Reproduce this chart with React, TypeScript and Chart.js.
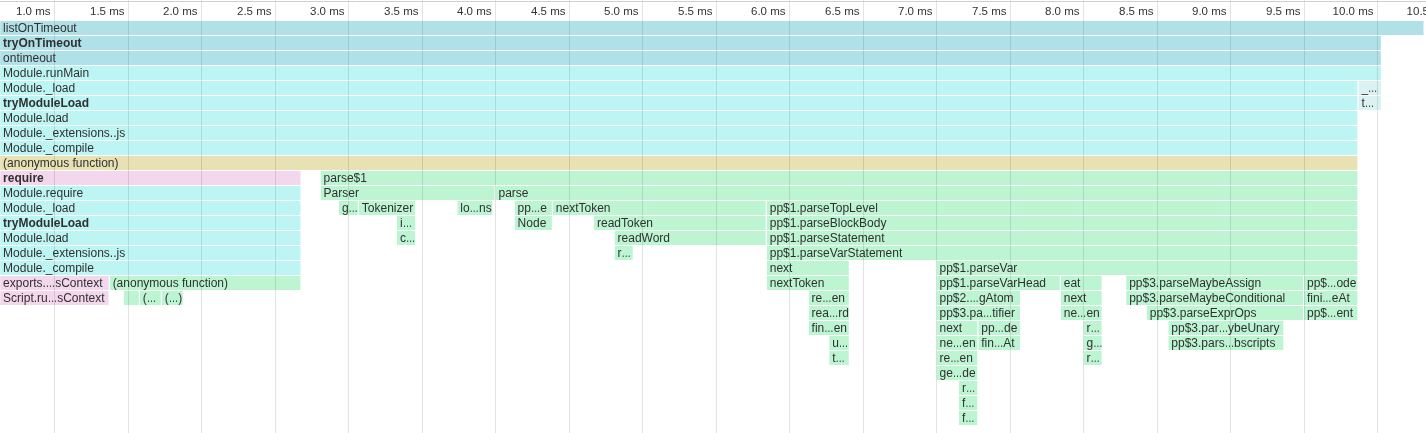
import { useEffect, useRef } from 'react';
import { Chart, registerables } from 'chart.js';

Chart.register(...registerables);

// Each frame: [stack depth, start (ms), end (ms), displayed name]
type Frame = [number, number, number, string];

const timerFrames: Frame[] = [
  [0, 0.63, 10.32, 'listOnTimeout'],
  [1, 0.63, 10.03, 'tryOnTimeout'],
  [2, 0.63, 10.03, 'ontimeout'],
];

const moduleFrames: Frame[] = [
  [3, 0.63, 10.03, 'Module.runMain'],
  [4, 0.63, 9.87, 'Module._load'],
  [5, 0.63, 9.87, 'tryModuleLoad'],
  [6, 0.63, 9.87, 'Module.load'],
  [7, 0.63, 9.87, 'Module._extensions..js'],
  [8, 0.63, 9.87, 'Module._compile'],
  [11, 0.63, 2.68, 'Module.require'],
  [12, 0.63, 2.68, 'Module._load'],
  [13, 0.63, 2.68, 'tryModuleLoad'],
  [14, 0.63, 2.68, 'Module.load'],
  [15, 0.63, 2.68, 'Module._extensions..js'],
  [16, 0.63, 2.68, 'Module._compile'],
];

const tailFrames: Frame[] = [
  [4, 9.87, 10.03, '_…'],
  [5, 9.87, 10.03, 't…'],
];

const scriptFrames: Frame[] = [
  [9, 0.63, 9.87, '(anonymous function)'],
];

const nativeFrames: Frame[] = [
  [10, 0.63, 2.68, 'require'],
  [17, 0.63, 1.375, 'exports.…sContext'],
  [18, 0.63, 1.375, 'Script.ru…sContext'],
];

const parserFrames: Frame[] = [
  [10, 2.81, 9.87, 'parse$1'],
  [11, 2.81, 4.0, 'Parser'],
  [11, 4.0, 9.87, 'parse'],
  [12, 2.935, 3.07, 'g…'],
  [12, 3.07, 3.46, 'Tokenizer'],
  [12, 3.74, 3.985, 'lo…ns'],
  [12, 4.13, 4.39, 'pp…e'],
  [12, 4.39, 5.845, 'nextToken'],
  [12, 5.845, 9.87, 'pp$1.parseTopLevel'],
  [13, 3.33, 3.46, 'i…'],
  [13, 4.13, 4.39, 'Node'],
  [13, 4.67, 5.845, 'readToken'],
  [13, 5.845, 9.87, 'pp$1.parseBlockBody'],
  [14, 3.33, 3.46, 'c…'],
  [14, 4.81, 5.845, 'readWord'],
  [14, 5.845, 9.87, 'pp$1.parseStatement'],
  [15, 4.81, 4.94, 'r…'],
  [15, 5.845, 9.87, 'pp$1.parseVarStatement'],
  [16, 5.845, 6.41, 'next'],
  [16, 7.0, 9.87, 'pp$1.parseVar'],
  [17, 1.375, 2.68, '(anonymous function)'],
  [17, 5.845, 6.41, 'nextToken'],
  [17, 7.0, 7.845, 'pp$1.parseVarHead'],
  [17, 7.845, 8.13, 'eat'],
  [17, 8.29, 9.5, 'pp$3.parseMaybeAssign'],
  [17, 9.5, 9.87, 'pp$…ode'],
  [18, 1.47, 1.58, ''],
  [18, 1.58, 1.73, '(…'],
  [18, 1.73, 1.88, '(…)'],
  [18, 6.13, 6.41, 're…en'],
  [18, 7.0, 7.575, 'pp$2.…gAtom'],
  [18, 7.845, 8.13, 'next'],
  [18, 8.29, 9.5, 'pp$3.parseMaybeConditional'],
  [18, 9.5, 9.87, 'fini…eAt'],
  [19, 6.13, 6.41, 'rea…rd'],
  [19, 7.0, 7.575, 'pp$3.pa…tifier'],
  [19, 7.845, 8.13, 'ne…en'],
  [19, 8.43, 9.5, 'pp$3.parseExprOps'],
  [19, 9.5, 9.87, 'pp$…ent'],
  [20, 6.13, 6.41, 'fin…en'],
  [20, 7.0, 7.284, 'next'],
  [20, 7.284, 7.575, 'pp…de'],
  [20, 8.0, 8.13, 'r…'],
  [20, 8.577, 9.366, 'pp$3.par…ybeUnary'],
  [21, 6.27, 6.41, 'u…'],
  [21, 7.0, 7.284, 'ne…en'],
  [21, 7.284, 7.575, 'fin…At'],
  [21, 8.0, 8.13, 'g…'],
  [21, 8.577, 9.366, 'pp$3.pars…bscripts'],
  [22, 6.27, 6.41, 't…'],
  [22, 7.0, 7.284, 're…en'],
  [22, 8.0, 8.13, 'r…'],
  [23, 7.0, 7.284, 'ge…de'],
  [24, 7.153, 7.284, 'r…'],
  [25, 7.153, 7.284, 'f…'],
  [26, 7.153, 7.284, 'f…'],
];

const tickValues = [1.0, 1.5, 2.0, 2.5, 3.0, 3.5, 4.0, 4.5, 5.0, 5.5, 6.0, 6.5, 7.0, 7.5, 8.0, 8.5, 9.0, 9.5, 10.0, 10.5];
const tickLabels = ['1.0 ms', '1.5 ms', '2.0 ms', '2.5 ms', '3.0 ms', '3.5 ms', '4.0 ms', '4.5 ms', '5.0 ms', '5.5 ms', '6.0 ms', '6.5 ms', '7.0 ms', '7.5 ms', '8.0 ms', '8.5 ms', '9.0 ms', '9.5 ms', '10.0 ms', '10.5 ms'];

const boldNames = new Set(['tryOnTimeout', 'tryModuleLoad', 'require']);

// Visible time window and stack depth
const timeMin = 0.62925;
const timeMax = 10.3299;
const maxDepth = 26;

const HEADER = 21;
const ROW = 15;
const FONT = '"Liberation Sans", Arial, sans-serif';

const groups: { frames: Frame[]; color: string }[] = [
  { frames: timerFrames, color: '#b1e1e8' },
  { frames: moduleFrames, color: '#bcf5f3' },
  { frames: tailFrames, color: '#daf2f2' },
  { frames: scriptFrames, color: '#e7e1b3' },
  { frames: nativeFrames, color: '#f3d7ec' },
  { frames: parserFrames, color: '#bdf5d3' },
];

// Writes a frame name, drawing a tighter ellipsis for shortened names.
function drawName(ctx: CanvasRenderingContext2D, name: string, x: number, y: number) {
  const cut = name.indexOf('…');
  if (cut < 0) {
    ctx.fillText(name, x, y);
    return;
  }
  const head = name.slice(0, cut);
  const tail = name.slice(cut + 1);
  ctx.fillText(head, x, y);
  let cx = x + ctx.measureText(head).width;
  const squeeze = 0.78;
  ctx.save();
  ctx.translate(cx, y);
  ctx.scale(squeeze, 1);
  ctx.fillText('…', 0, 0);
  ctx.restore();
  cx += ctx.measureText('…').width * squeeze;
  ctx.fillText(tail, cx, y);
}

const flamePlugin = {
  id: 'flameOverlay',
  beforeDraw(chart: any) {
    const { ctx, width, height } = chart;
    ctx.save();
    ctx.fillStyle = '#ffffff';
    ctx.fillRect(0, 0, width, height);
    ctx.restore();
  },
  afterDatasetsDraw(chart: any) {
    const { ctx, height } = chart;
    const xScale = chart.scales.x;

    // vertical time grid, over the bars
    ctx.save();
    ctx.strokeStyle = 'rgba(0,0,0,0.11)';
    ctx.lineWidth = 1;
    tickValues.forEach((v) => {
      const px = Math.floor(xScale.getPixelForValue(v)) + 0.5;
      ctx.beginPath();
      ctx.moveTo(px, 0);
      ctx.lineTo(px, height);
      ctx.stroke();
    });
    ctx.restore();

    // frame names
    chart.data.datasets.forEach((ds: any, i: number) => {
      const meta = chart.getDatasetMeta(i);
      meta.data.forEach((el: any, j: number) => {
        const name = ds.data[j].name;
        if (!name) return;
        const p = el.getProps(['x', 'base', 'y', 'height'], true);
        const left = Math.min(p.x, p.base);
        const right = Math.max(p.x, p.base);
        const top = p.y - p.height / 2;
        ctx.save();
        ctx.beginPath();
        ctx.rect(left, top, right - left, p.height - 1);
        ctx.clip();
        ctx.fillStyle = '#303030';
        ctx.font = `${boldNames.has(name) ? 'bold ' : ''}12px ${FONT}`;
        ctx.textAlign = 'left';
        ctx.textBaseline = 'alphabetic';
        drawName(ctx, name, left + 3, top + 11);
        ctx.restore();
      });
    });

    // time ruler labels
    ctx.save();
    ctx.fillStyle = '#333333';
    ctx.font = `11.5px ${FONT}`;
    ctx.textAlign = 'right';
    ctx.textBaseline = 'alphabetic';
    tickValues.forEach((v, i) => {
      const px = Math.floor(xScale.getPixelForValue(v)) + 0.5;
      ctx.fillText(tickLabels[i], px - 4, 15);
    });
    ctx.strokeStyle = '#cfcfcf';
    ctx.beginPath();
    ctx.moveTo(0, 1.5);
    ctx.lineTo(chart.width, 1.5);
    ctx.stroke();
    ctx.restore();
  },
};

export default function App() {
  const canvasRef = useRef<HTMLCanvasElement>(null);

  useEffect(() => {
    document.body.style.margin = '0';
    const canvas = canvasRef.current;
    if (!canvas) return;

    const datasets = groups.map((g) => ({
      data: g.frames.map(([depth, start, end, name]) => ({ x: [start, end], y: depth, name })),
      backgroundColor: g.color,
      borderColor: '#ffffff',
      borderWidth: { top: 0, left: 0, right: 1, bottom: 1 },
      borderSkipped: false,
      inflateAmount: 0,
      grouped: false,
      barThickness: ROW,
    }));

    const chart = new Chart(canvas, {
      type: 'bar',
      data: { datasets: datasets as any },
      options: {
        indexAxis: 'y',
        responsive: false,
        animation: false,
        devicePixelRatio: 1,
        layout: { padding: { top: HEADER, bottom: 433 - HEADER - ROW * (maxDepth + 1), left: 0, right: 0 } },
        scales: {
          x: { type: 'linear', min: timeMin, max: timeMax, offset: false, display: false },
          y: { type: 'linear', min: -0.5, max: maxDepth + 0.5, reverse: true, offset: false, display: false },
        },
        plugins: {
          legend: { display: false },
          tooltip: { enabled: false },
        },
      },
      plugins: [flamePlugin],
    });

    return () => chart.destroy();
  }, []);

  return (
    <div style={{ width: 1426, height: 433 }}>
      <canvas ref={canvasRef} width={1426} height={433} style={{ display: 'block' }} />
    </div>
  );
}
